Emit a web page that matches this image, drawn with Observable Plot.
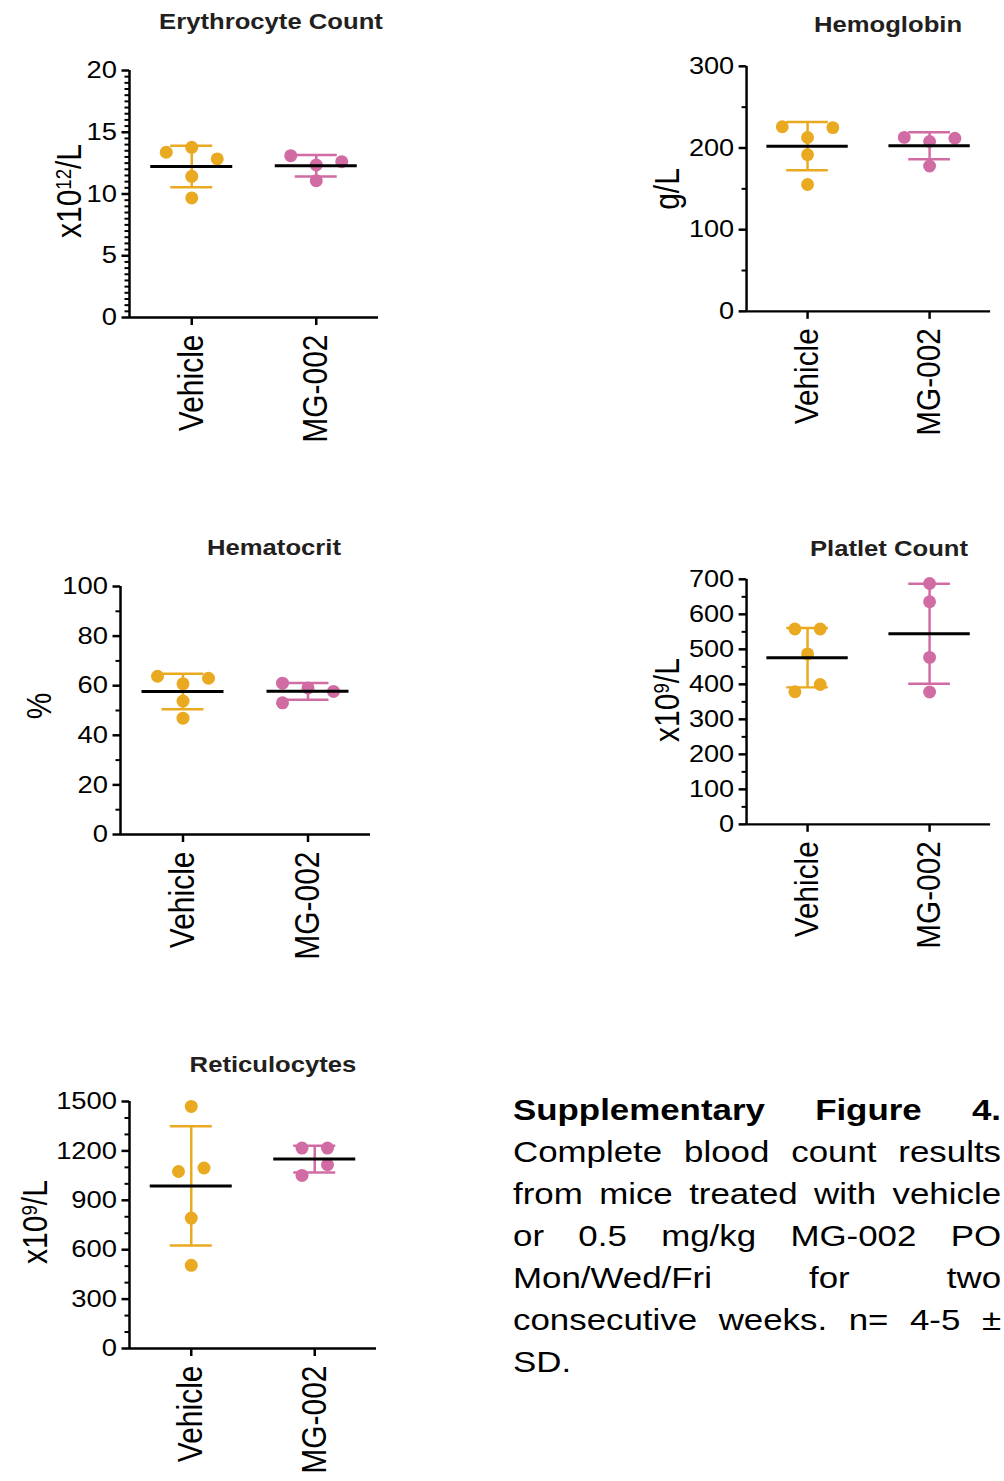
<!DOCTYPE html>
<html>
<head>
<meta charset="utf-8">
<script src="https://cdn.jsdelivr.net/npm/d3@7"></script>
<script src="https://cdn.jsdelivr.net/npm/@observablehq/plot@0.6"></script>
<style>
  html, body { margin: 0; padding: 0; background: #fff; }
  body { width: 1004px; height: 1481px; position: relative; overflow: hidden;
         font-family: "Liberation Sans", Arial, Helvetica, sans-serif; color: #000; }
  .panel { position: absolute; }
  .title { position: absolute; font-weight: bold; font-size: 22.5px; line-height: 22.5px;
           color: #231f20; white-space: nowrap; transform: translateX(-50%) scaleX(1.14); }
  .ylab { position: absolute; font-size: 30px; line-height: 30px; white-space: nowrap;
          transform: translate(-50%, -50%) rotate(-90deg) scaleY(1.14); }
  .ylab sup { font-size: 0.62em; vertical-align: 0.5em; line-height: 0; }
  .caption { position: absolute; left: 513px; top: 1088.6px; width: 420px; font-size: 30px;
             line-height: 42px; text-align: justify; transform-origin: 0 0; transform: scaleX(1.162); }
</style>
</head>
<body>
<script>
// ---------------- data ----------------
const categories = ["Vehicle", "MG-002"];
const groupColors = ["#E9A920", "#D16BA3"];

const erythroVehicle = [13.38, 13.78, 12.84, 11.43, 9.68];
const erythroMG = [13.1, 12.35, 12.62, 11.08];
const erythroTicks = [0, 5, 10, 15, 20];

const hbVehicle = [226, 212.8, 225, 191.8, 155.4];
const hbMG = [213, 208, 212, 178];
const hbTicks = [0, 100, 200, 300];

const hctVehicle = [63.8, 60.75, 63.0, 53.8, 46.9];
const hctMG = [61.0, 59.1, 57.7, 53.1];
const hctTicks = [0, 20, 40, 60, 80, 100];

const pltVehicle = [558, 558, 487, 378.8, 399.6];
const pltMG = [688, 636, 477, 378];
const pltTicks = [0, 100, 200, 300, 400, 500, 600, 700];

const retVehicle = [1470, 1075, 1096, 792, 505];
const retMG = [1217, 1217, 1051, 1116];
const retTicks = [0, 300, 600, 900, 1200, 1500];

const titles = ["Erythrocyte Count", "Hemoglobin", "Hematocrit", "Platlet Count", "Reticulocytes"];
const yLabels = ["x10<sup>12</sup>/L", "g/L", "%", "x10<sup>9</sup>/L", "x10<sup>9</sup>/L"];
const captionBold = "Supplementary Figure 4.";
const captionText = "Complete blood count results from mice treated with vehicle or 0.5 mg/kg MG-002 PO Mon/Wed/Fri for two consecutive weeks. n= 4-5 ± SD.";

// ---------------- layout ----------------
const S = 1.14; // horizontal text widening of the source figure
const FONT = "'Liberation Sans', Arial, Helvetica, sans-serif";

const panels = [
  {x0: 129, x1: 378, yTop: 70,   yBot: 317,  ticks: erythroTicks, minorStep: 0.5, groups: [erythroVehicle, erythroMG],
   title: [271, 30], ylab: [70, 191]},
  {x0: 747, x1: 993, yTop: 66,   yBot: 313,  ticks: hbTicks, minorStep: 50, groups: [hbVehicle, hbMG],
   title: [888, 33], ylab: [668, 189]},
  {x0: 120, x1: 370, yTop: 586,  yBot: 834,  ticks: hctTicks, minorStep: 10, groups: [hctVehicle, hctMG],
   title: [274, 556], ylab: [40, 706]},
  {x0: 747, x1: 993, yTop: 579,  yBot: 826,  ticks: pltTicks, minorStep: 50, groups: [pltVehicle, pltMG],
   title: [889, 557], ylab: [668, 700]},
  {x0: 129, x1: 376, yTop: 1101, yBot: 1348, ticks: retTicks, minorStep: 100, groups: [retVehicle, retMG],
   title: [273, 1073], ylab: [36, 1222]}
];

// GraphPad-like horizontal spreading of points that would overlap
function spread(values, pxPerUnit, thresholdPx) {
  const order = d3.range(values.length).sort((a, b) => values[b] - values[a]);
  const rows = [];
  let cur = null, prev = null;
  for (const i of order) {
    const close = cur && (values[prev] - values[i]) * pxPerUnit < thresholdPx;
    if (close && cur.members.length < 3) cur.members.push(i);
    else { cur = {members: [i], cont: !!close}; rows.push(cur); }
    prev = i;
  }
  const lane = new Array(values.length).fill(0);
  for (const r of rows) {
    const m = r.members.slice().sort((a, b) => a - b);
    m.forEach((idx, k) => { lane[idx] = r.cont ? -1 + k : k - (m.length - 1) / 2; });
  }
  return lane;
}

function stretchTexts(svg) {
  svg.querySelectorAll("text").forEach(t => {
    const tr = t.getAttribute("transform") || "";
    const rotated = /rotate\(\s*-?90/.test(tr);
    t.setAttribute("transform", tr + (rotated ? ` scale(1,${S})` : ` scale(${S},1)`));
  });
}

panels.forEach((p, k) => {
  const mL = 120, mR = 14, mT = 22, mB = 150;
  const frameW = p.x1 - p.x0, frameH = p.yBot - p.yTop;
  const W = frameW + mL + mR, H = frameH + mT + mB;
  const yMax = p.ticks[p.ticks.length - 1];
  const pxX = frameW / 2;               // px per x unit (domain -0.5..1.5)
  const pxY = frameH / yMax;            // px per y unit
  const laneX = 25.5 / pxX, meanHalf = 41 / pxX, capHalf = 21 / pxX;
  const minor = d3.range(0, yMax + 1e-9, p.minorStep).filter(v => !p.ticks.includes(v));

  const marks = [
    Plot.axisY({ticks: minor, tickSize: 4.5, strokeWidth: 2, fill: "none", label: null}),
    Plot.axisY({ticks: p.ticks, tickSize: 7.5, tickPadding: 5, strokeWidth: 2.5, fontSize: 24,
                tickFormat: d => String(d), label: null}),
    Plot.axisX({ticks: [0, 1], tickFormat: i => categories[i], tickSize: 8, tickPadding: 9,
                tickRotate: -90, strokeWidth: 2.5, fontSize: 30, label: null}),
    Plot.ruleX([-0.5], {strokeWidth: 2.5, stroke: "#000"}),
    Plot.ruleY([0], {strokeWidth: 2.5, stroke: "#000"})
  ];

  p.groups.forEach((vals, gi) => {
    const color = groupColors[gi];
    const mean = d3.mean(vals), sd = d3.deviation(vals);
    const lanes = spread(vals, pxY, 13.5);
    const pts = vals.map((v, j) => ({x: gi + lanes[j] * laneX, y: v}));
    marks.push(
      Plot.ruleX([gi], {x: d => d, y1: mean - sd, y2: mean + sd, stroke: color, strokeWidth: 2.5}),
      Plot.ruleY([mean - sd, mean + sd], {y: d => d, x1: gi - capHalf, x2: gi + capHalf, stroke: color, strokeWidth: 2.5}),
      Plot.dot(pts, {x: "x", y: "y", r: 6.5, fill: color, stroke: "none"}),
      Plot.ruleY([mean], {y: d => d, x1: gi - meanHalf, x2: gi + meanHalf, stroke: "#000", strokeWidth: 3})
    );
  });

  const svg = Plot.plot({
    width: W, height: H,
    marginLeft: mL, marginRight: mR, marginTop: mT, marginBottom: mB,
    x: {domain: [-0.5, 1.5]},
    y: {domain: [0, yMax]},
    style: {fontFamily: FONT, background: "transparent", color: "#000", overflow: "visible"},
    marks
  });
  stretchTexts(svg);

  const div = document.createElement("div");
  div.className = "panel";
  div.style.left = (p.x0 - mL) + "px";
  div.style.top = (p.yTop - mT) + "px";
  div.appendChild(svg);
  document.body.appendChild(div);

  const t = document.createElement("div");
  t.className = "title";
  t.textContent = titles[k];
  t.style.left = p.title[0] + "px";
  t.style.top = (p.title[1] - 0.8465 * 22.5) + "px";
  document.body.appendChild(t);

  const yl = document.createElement("div");
  yl.className = "ylab";
  yl.innerHTML = yLabels[k];
  yl.style.left = p.ylab[0] + "px";
  yl.style.top = p.ylab[1] + "px";
  document.body.appendChild(yl);
});

const cap = document.createElement("div");
cap.className = "caption";
const b = document.createElement("b");
b.textContent = captionBold;
cap.appendChild(b);
cap.appendChild(document.createTextNode(" " + captionText));
document.body.appendChild(cap);
</script>
</body>
</html>
